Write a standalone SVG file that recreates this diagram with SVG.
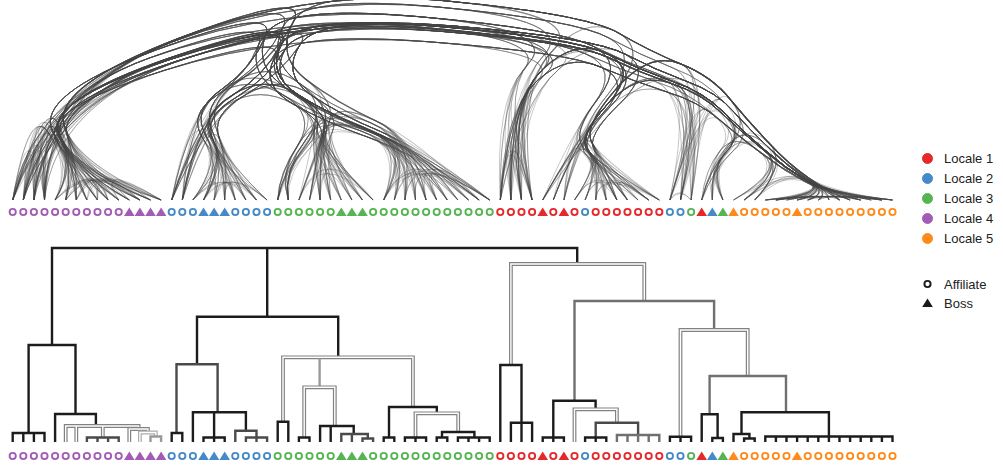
<svg xmlns="http://www.w3.org/2000/svg" width="1003" height="466" viewBox="0 0 1003 466">
<style>
.k{fill:none;stroke:#1c1c1c;stroke-width:2.4}
.d{fill:none;stroke:#4a4a4a;stroke-width:2.4}
.g{fill:none;stroke:#707070;stroke-width:2.4}
.l{fill:none;stroke:#9a9a9a;stroke-width:2.4}
.wo{fill:none;stroke:#828282;stroke-width:3.8}
.wl{fill:none;stroke:#ababab;stroke-width:3.8}
.wi{fill:none;stroke:#fff;stroke-width:1.4}
.c1{stroke:#e6282b;fill:#e6282b}
.c2{stroke:#4689c8;fill:#4689c8}
.c3{stroke:#56b452;fill:#56b452}
.c4{stroke:#a25cb6;fill:#a25cb6}
.c5{stroke:#ff8a1a;fill:#ff8a1a}
.ck{stroke:#1a1a1a;fill:#1a1a1a}
.t{font-family:"Liberation Sans",Arial,sans-serif;font-size:13px;fill:#222}
</style>
<defs>
<circle id="mc" r="3.1" fill="#fff" stroke-width="1.9"/>
<path id="mt" d="M0-4.6L5.3 4H-5.3Z" stroke="none"/>
</defs>
<g id="connectors" fill="none" stroke="#444" stroke-opacity="0.3" stroke-width="1">
<g id="edges-1">
<path d="M12.7 200Q45 90 44.5 200"/>
<path d="M23.3 200Q45 90 33.9 200"/>
<path d="M12.7 200Q45 90 60 128Q75 165 65.7 200"/>
<path d="M23.3 200Q45 90 60 128Q75 165 86.9 200"/>
<path d="M33.9 200Q45 90 60 128Q75 165 108.1 200"/>
<path d="M44.5 200Q45 90 60 128Q75 165 139.9 200"/>
<path d="M12.7 200Q45 90 60 128Q75 165 161.1 200"/>
<path d="M33.9 200Q45 90 60 128Q75 165 55.1 200"/>
<path d="M12.7 200Q45 90 172 42Q299 -6 283 27Q267 60 234 83Q200 105 171.7 200"/>
<path d="M33.9 200Q45 90 172 42Q299 -6 283 27Q267 60 234 83Q200 105 182.3 200"/>
<path d="M23.3 200Q45 90 172 42Q299 -6 283 27Q267 60 234 83Q200 105 213 133Q225 160 203.5 200"/>
<path d="M44.5 200Q45 90 172 42Q299 -6 283 27Q267 60 234 83Q200 105 213 133Q225 160 245.9 200"/>
<path d="M33.9 200Q45 90 172 42Q299 -6 283 27Q267 60 299 83Q330 105 307 138Q283 170 277.7 200"/>
<path d="M12.7 200Q45 90 172 42Q299 -6 283 27Q267 60 299 83Q330 105 325 123Q320 140 320.1 200"/>
<path d="M44.5 200Q45 90 172 42Q299 -6 283 27Q267 60 299 83Q330 105 325 123Q320 140 362.5 200"/>
<path d="M12.7 200Q45 90 172 42Q299 -6 438 7Q577 20 544 55Q510 90 510.9 200"/>
<path d="M44.5 200Q45 90 172 42Q299 -6 438 7Q577 20 544 55Q510 90 500.3 200"/>
<path d="M23.3 200Q45 90 172 42Q299 -6 438 7Q577 20 609 38Q640 55 609 93Q578 130 553.3 200"/>
<path d="M33.9 200Q45 90 172 42Q299 -6 438 7Q577 20 609 38Q640 55 609 93Q578 130 589 145Q600 160 606.3 200"/>
<path d="M12.7 200Q45 90 172 42Q299 -6 438 7Q577 20 609 38Q640 55 609 93Q578 130 589 145Q600 160 648.7 200"/>
<path d="M44.5 200Q45 90 172 42Q299 -6 438 7Q577 20 609 38Q640 55 673 68Q705 80 680.5 200"/>
<path d="M192.9 200Q225 160 213 133Q200 105 234 83Q267 60 299 83Q330 105 371 123Q412 140 404.9 200"/>
<path d="M235.3 200Q225 160 213 133Q200 105 234 83Q267 60 299 83Q330 105 371 123Q412 140 468.5 200"/>
<path d="M267.1 200Q225 160 213 133Q200 105 234 83Q267 60 299 83Q330 105 371 123Q412 140 489.7 200"/>
<path d="M214.1 200Q225 160 213 133Q200 105 234 83Q267 60 299 83Q330 105 371 123Q412 140 383.7 200"/>
<path d="M277.7 200Q283 170 307 138Q330 105 325 123Q320 140 341.3 200"/>
<path d="M288.3 200Q283 170 307 138Q330 105 325 123Q320 140 320.1 200"/>
<path d="M277.7 200Q283 170 307 138Q330 105 371 123Q412 140 415.5 200"/>
<path d="M288.3 200Q283 170 307 138Q330 105 371 123Q412 140 457.9 200"/>
<path d="M298.9 200Q320 140 325 123Q330 105 371 123Q412 140 394.3 200"/>
<path d="M330.7 200Q320 140 325 123Q330 105 371 123Q412 140 436.7 200"/>
<path d="M267.1 200Q225 160 213 133Q200 105 234 83Q267 60 283 27Q299 -6 438 7Q577 20 609 38Q640 55 673 68Q705 80 725 103Q745 125 766 145Q786 165 808 179Q830 192 797.1 200"/>
<path d="M214.1 200Q225 160 213 133Q200 105 234 83Q267 60 283 27Q299 -6 438 7Q577 20 609 38Q640 55 673 68Q705 80 725 103Q745 125 766 145Q786 165 808 179Q830 192 881.9 200"/>
<path d="M288.3 200Q283 170 307 138Q330 105 299 83Q267 60 283 27Q299 -6 438 7Q577 20 544 55Q510 90 532.1 200"/>
<path d="M277.7 200Q283 170 307 138Q330 105 299 83Q267 60 283 27Q299 -6 438 7Q577 20 609 38Q640 55 673 68Q705 80 691.1 200"/>
<path d="M288.3 200Q283 170 307 138Q330 105 299 83Q267 60 283 27Q299 -6 438 7Q577 20 609 38Q640 55 673 68Q705 80 725 103Q745 125 766 145Q786 165 808 179Q830 192 828.9 200"/>
<path d="M320.1 200Q320 140 325 123Q330 105 299 83Q267 60 283 27Q299 -6 438 7Q577 20 544 55Q510 90 521.5 200"/>
<path d="M341.3 200Q320 140 325 123Q330 105 299 83Q267 60 283 27Q299 -6 438 7Q577 20 609 38Q640 55 609 93Q578 130 563.9 200"/>
<path d="M563.9 200Q578 130 589 145Q600 160 659.3 200"/>
<path d="M574.5 200Q600 160 616.9 200"/>
<path d="M606.3 200Q600 160 648.7 200"/>
<path d="M585.1 200Q600 160 638.1 200"/>
<path d="M669.9 200Q705 80 725 103Q745 125 728 145Q710 165 701.7 200"/>
<path d="M680.5 200Q705 80 725 103Q745 125 766 145Q786 165 808 179Q830 192 797.1 200"/>
<path d="M691.1 200Q705 80 725 103Q745 125 766 145Q786 165 808 179Q830 192 860.7 200"/>
<path d="M712.3 200Q710 165 728 145Q745 125 766 145Q786 165 744.1 200"/>
<path d="M701.7 200Q710 165 728 145Q745 125 766 145Q786 165 808 179Q830 192 828.9 200"/>
<path d="M722.9 200Q710 165 728 145Q745 125 766 145Q786 165 808 179Q830 192 871.3 200"/>
</g>
<g id="edges-2" transform="matrix(1 0 -0.1 0.9 20 20)">
<path d="M23.3 200Q45 90 172 42Q299 -6 283 27Q267 60 299 83Q330 105 371 123Q412 140 415.5 200"/>
<path d="M33.9 200Q45 90 172 42Q299 -6 283 27Q267 60 299 83Q330 105 371 123Q412 140 479.1 200"/>
<path d="M76.3 200Q75 165 60 128Q45 90 172 42Q299 -6 283 27Q267 60 234 83Q200 105 171.7 200"/>
<path d="M65.7 200Q75 165 60 128Q45 90 172 42Q299 -6 283 27Q267 60 234 83Q200 105 213 133Q225 160 214.1 200"/>
<path d="M108.1 200Q75 165 60 128Q45 90 172 42Q299 -6 283 27Q267 60 234 83Q200 105 213 133Q225 160 267.1 200"/>
<path d="M139.9 200Q75 165 60 128Q45 90 172 42Q299 -6 283 27Q267 60 234 83Q200 105 213 133Q225 160 224.7 200"/>
<path d="M23.3 200Q45 90 172 42Q299 -6 438 7Q577 20 609 38Q640 55 673 68Q705 80 725 103Q745 125 728 145Q710 165 712.3 200"/>
<path d="M33.9 200Q45 90 172 42Q299 -6 438 7Q577 20 609 38Q640 55 673 68Q705 80 725 103Q745 125 766 145Q786 165 744.1 200"/>
<path d="M12.7 200Q45 90 172 42Q299 -6 438 7Q577 20 609 38Q640 55 673 68Q705 80 725 103Q745 125 766 145Q786 165 808 179Q830 192 807.7 200"/>
<path d="M44.5 200Q45 90 172 42Q299 -6 438 7Q577 20 609 38Q640 55 673 68Q705 80 725 103Q745 125 766 145Q786 165 808 179Q830 192 860.7 200"/>
<path d="M23.3 200Q45 90 172 42Q299 -6 438 7Q577 20 609 38Q640 55 673 68Q705 80 725 103Q745 125 766 145Q786 165 808 179Q830 192 892.5 200"/>
<path d="M65.7 200Q75 165 60 128Q45 90 172 42Q299 -6 438 7Q577 20 544 55Q510 90 521.5 200"/>
<path d="M171.7 200Q200 105 213 133Q225 160 224.7 200"/>
<path d="M182.3 200Q200 105 213 133Q225 160 256.5 200"/>
<path d="M192.9 200Q225 160 245.9 200"/>
<path d="M203.5 200Q225 160 267.1 200"/>
<path d="M214.1 200Q225 160 235.3 200"/>
<path d="M171.7 200Q200 105 234 83Q267 60 299 83Q330 105 307 138Q283 170 288.3 200"/>
<path d="M182.3 200Q200 105 234 83Q267 60 299 83Q330 105 325 123Q320 140 330.7 200"/>
<path d="M171.7 200Q200 105 234 83Q267 60 299 83Q330 105 371 123Q412 140 436.7 200"/>
<path d="M203.5 200Q225 160 213 133Q200 105 234 83Q267 60 299 83Q330 105 307 138Q283 170 277.7 200"/>
<path d="M224.7 200Q225 160 213 133Q200 105 234 83Q267 60 299 83Q330 105 325 123Q320 140 309.5 200"/>
<path d="M245.9 200Q225 160 213 133Q200 105 234 83Q267 60 299 83Q330 105 325 123Q320 140 362.5 200"/>
<path d="M468.5 200Q412 140 371 123Q330 105 299 83Q267 60 283 27Q299 -6 438 7Q577 20 609 38Q640 55 609 93Q578 130 589 145Q600 160 648.7 200"/>
<path d="M489.7 200Q412 140 371 123Q330 105 299 83Q267 60 283 27Q299 -6 438 7Q577 20 609 38Q640 55 673 68Q705 80 669.9 200"/>
<path d="M447.3 200Q412 140 371 123Q330 105 299 83Q267 60 283 27Q299 -6 438 7Q577 20 609 38Q640 55 673 68Q705 80 725 103Q745 125 728 145Q710 165 701.7 200"/>
<path d="M404.9 200Q412 140 371 123Q330 105 299 83Q267 60 283 27Q299 -6 438 7Q577 20 609 38Q640 55 673 68Q705 80 725 103Q745 125 766 145Q786 165 754.7 200"/>
<path d="M383.7 200Q412 140 371 123Q330 105 299 83Q267 60 283 27Q299 -6 438 7Q577 20 609 38Q640 55 673 68Q705 80 725 103Q745 125 766 145Q786 165 808 179Q830 192 786.5 200"/>
<path d="M457.9 200Q412 140 371 123Q330 105 299 83Q267 60 283 27Q299 -6 438 7Q577 20 609 38Q640 55 673 68Q705 80 725 103Q745 125 766 145Q786 165 808 179Q830 192 818.3 200"/>
<path d="M426.1 200Q412 140 371 123Q330 105 299 83Q267 60 283 27Q299 -6 438 7Q577 20 609 38Q640 55 673 68Q705 80 725 103Q745 125 766 145Q786 165 808 179Q830 192 860.7 200"/>
<path d="M489.7 200Q412 140 371 123Q330 105 299 83Q267 60 283 27Q299 -6 438 7Q577 20 609 38Q640 55 673 68Q705 80 725 103Q745 125 766 145Q786 165 808 179Q830 192 871.3 200"/>
<path d="M23.3 200Q45 90 44.5 200"/>
<path d="M33.9 200Q45 90 60 128Q75 165 76.3 200"/>
<path d="M44.5 200Q45 90 60 128Q75 165 150.5 200"/>
<path d="M55.1 200Q95 155 108.1 200"/>
<path d="M76.3 200Q95 155 97.5 200"/>
<path d="M44.5 200Q45 90 172 42Q299 -6 438 7Q577 20 609 38Q640 55 609 93Q578 130 589 145Q600 160 627.5 200"/>
<path d="M23.3 200Q45 90 172 42Q299 -6 438 7Q577 20 609 38Q640 55 673 68Q705 80 725 103Q745 125 766 145Q786 165 808 179Q830 192 828.9 200"/>
<path d="M76.3 200Q75 165 60 128Q45 90 172 42Q299 -6 438 7Q577 20 609 38Q640 55 609 93Q578 130 542.7 200"/>
<path d="M118.7 200Q75 165 60 128Q45 90 172 42Q299 -6 438 7Q577 20 609 38Q640 55 673 68Q705 80 680.5 200"/>
<path d="M150.5 200Q75 165 60 128Q45 90 172 42Q299 -6 438 7Q577 20 609 38Q640 55 673 68Q705 80 725 103Q745 125 766 145Q786 165 808 179Q830 192 881.9 200"/>
<path d="M182.3 200Q200 105 234 83Q267 60 283 27Q299 -6 438 7Q577 20 609 38Q640 55 609 93Q578 130 589 145Q600 160 659.3 200"/>
<path d="M245.9 200Q225 160 213 133Q200 105 234 83Q267 60 283 27Q299 -6 438 7Q577 20 609 38Q640 55 609 93Q578 130 589 145Q600 160 574.5 200"/>
<path d="M256.5 200Q225 160 213 133Q200 105 234 83Q267 60 283 27Q299 -6 438 7Q577 20 609 38Q640 55 673 68Q705 80 725 103Q745 125 766 145Q786 165 744.1 200"/>
<path d="M309.5 200Q320 140 325 123Q330 105 299 83Q267 60 283 27Q299 -6 438 7Q577 20 544 55Q510 90 510.9 200"/>
<path d="M330.7 200Q320 140 325 123Q330 105 299 83Q267 60 283 27Q299 -6 438 7Q577 20 609 38Q640 55 673 68Q705 80 725 103Q745 125 728 145Q710 165 701.7 200"/>
<path d="M457.9 200Q412 140 371 123Q330 105 299 83Q267 60 283 27Q299 -6 438 7Q577 20 609 38Q640 55 609 93Q578 130 589 145Q600 160 616.9 200"/>
<path d="M447.3 200Q412 140 371 123Q330 105 299 83Q267 60 283 27Q299 -6 438 7Q577 20 609 38Q640 55 673 68Q705 80 725 103Q745 125 766 145Q786 165 808 179Q830 192 892.5 200"/>
<path d="M500.3 200Q510 90 521.5 200"/>
<path d="M500.3 200Q510 90 544 55Q577 20 609 38Q640 55 609 93Q578 130 589 145Q600 160 616.9 200"/>
<path d="M500.3 200Q510 90 544 55Q577 20 609 38Q640 55 673 68Q705 80 725 103Q745 125 766 145Q786 165 808 179Q830 192 775.9 200"/>
<path d="M542.7 200Q578 130 609 93Q640 55 673 68Q705 80 725 103Q745 125 766 145Q786 165 808 179Q830 192 797.1 200"/>
<path d="M648.7 200Q600 160 589 145Q578 130 609 93Q640 55 673 68Q705 80 725 103Q745 125 766 145Q786 165 808 179Q830 192 871.3 200"/>
<path d="M627.5 200Q600 160 648.7 200"/>
<path d="M701.7 200Q710 165 728 145Q745 125 766 145Q786 165 808 179Q830 192 807.7 200"/>
<path d="M775.9 200Q830 192 860.7 200"/>
</g>
<g id="edges-3" transform="matrix(1 0 0.1 0.95 -20 10)">
<path d="M44.5 200Q45 90 60 128Q75 165 97.5 200"/>
<path d="M23.3 200Q45 90 60 128Q75 165 118.7 200"/>
<path d="M65.7 200Q95 155 108.1 200"/>
<path d="M86.9 200Q95 155 150.5 200"/>
<path d="M55.1 200Q95 155 129.3 200"/>
<path d="M97.5 200Q95 155 161.1 200"/>
<path d="M76.3 200Q95 155 139.9 200"/>
<path d="M55.1 200Q75 165 60 128Q45 90 172 42Q299 -6 438 7Q577 20 609 38Q640 55 609 93Q578 130 589 145Q600 160 595.7 200"/>
<path d="M129.3 200Q75 165 60 128Q45 90 172 42Q299 -6 438 7Q577 20 609 38Q640 55 609 93Q578 130 589 145Q600 160 627.5 200"/>
<path d="M150.5 200Q75 165 60 128Q45 90 172 42Q299 -6 438 7Q577 20 609 38Q640 55 609 93Q578 130 589 145Q600 160 659.3 200"/>
<path d="M108.1 200Q75 165 60 128Q45 90 172 42Q299 -6 438 7Q577 20 544 55Q510 90 532.1 200"/>
<path d="M86.9 200Q75 165 60 128Q45 90 172 42Q299 -6 438 7Q577 20 609 38Q640 55 609 93Q578 130 563.9 200"/>
<path d="M76.3 200Q75 165 60 128Q45 90 172 42Q299 -6 438 7Q577 20 609 38Q640 55 673 68Q705 80 669.9 200"/>
<path d="M182.3 200Q200 105 234 83Q267 60 283 27Q299 -6 438 7Q577 20 544 55Q510 90 510.9 200"/>
<path d="M171.7 200Q200 105 234 83Q267 60 283 27Q299 -6 438 7Q577 20 609 38Q640 55 609 93Q578 130 589 145Q600 160 616.9 200"/>
<path d="M182.3 200Q200 105 234 83Q267 60 283 27Q299 -6 438 7Q577 20 609 38Q640 55 673 68Q705 80 725 103Q745 125 766 145Q786 165 808 179Q830 192 850.1 200"/>
<path d="M224.7 200Q225 160 213 133Q200 105 234 83Q267 60 283 27Q299 -6 438 7Q577 20 544 55Q510 90 500.3 200"/>
<path d="M203.5 200Q225 160 213 133Q200 105 234 83Q267 60 283 27Q299 -6 438 7Q577 20 609 38Q640 55 609 93Q578 130 542.7 200"/>
<path d="M256.5 200Q225 160 213 133Q200 105 234 83Q267 60 283 27Q299 -6 438 7Q577 20 609 38Q640 55 609 93Q578 130 589 145Q600 160 638.1 200"/>
<path d="M235.3 200Q225 160 213 133Q200 105 234 83Q267 60 283 27Q299 -6 438 7Q577 20 609 38Q640 55 673 68Q705 80 725 103Q745 125 728 145Q710 165 722.9 200"/>
<path d="M733.5 200Q786 165 808 179Q830 192 786.5 200"/>
<path d="M754.7 200Q786 165 808 179Q830 192 850.1 200"/>
<path d="M765.3 200Q830 192 818.3 200"/>
<path d="M775.9 200Q830 192 892.5 200"/>
<path d="M797.1 200Q830 192 860.7 200"/>
<path d="M807.7 200Q830 192 881.9 200"/>
<path d="M765.3 200Q830 192 839.5 200"/>
<path d="M786.5 200Q830 192 828.9 200"/>
<path d="M669.9 200Q680 185 691.1 200"/>
<path d="M23.3 200Q45 90 172 42Q299 -6 283 27Q267 60 234 83Q200 105 213 133Q225 160 192.9 200"/>
<path d="M44.5 200Q45 90 172 42Q299 -6 283 27Q267 60 234 83Q200 105 182.3 200"/>
<path d="M12.7 200Q45 90 172 42Q299 -6 283 27Q267 60 299 83Q330 105 371 123Q412 140 383.7 200"/>
<path d="M23.3 200Q45 90 172 42Q299 -6 283 27Q267 60 299 83Q330 105 325 123Q320 140 330.7 200"/>
<path d="M86.9 200Q75 165 60 128Q45 90 172 42Q299 -6 283 27Q267 60 234 83Q200 105 213 133Q225 160 203.5 200"/>
<path d="M76.3 200Q75 165 60 128Q45 90 172 42Q299 -6 283 27Q267 60 299 83Q330 105 307 138Q283 170 277.7 200"/>
<path d="M139.9 200Q75 165 60 128Q45 90 172 42Q299 -6 283 27Q267 60 299 83Q330 105 325 123Q320 140 320.1 200"/>
<path d="M97.5 200Q75 165 60 128Q45 90 172 42Q299 -6 283 27Q267 60 299 83Q330 105 371 123Q412 140 468.5 200"/>
<path d="M129.3 200Q75 165 60 128Q45 90 172 42Q299 -6 283 27Q267 60 299 83Q330 105 325 123Q320 140 373.1 200"/>
<path d="M192.9 200Q225 160 214.1 200"/>
<path d="M171.7 200Q200 105 213 133Q225 160 203.5 200"/>
<path d="M171.7 200Q200 105 234 83Q267 60 299 83Q330 105 325 123Q320 140 362.5 200"/>
<path d="M192.9 200Q225 160 213 133Q200 105 234 83Q267 60 299 83Q330 105 325 123Q320 140 320.1 200"/>
<path d="M235.3 200Q225 160 213 133Q200 105 234 83Q267 60 299 83Q330 105 371 123Q412 140 394.3 200"/>
<path d="M288.3 200Q283 170 307 138Q330 105 325 123Q320 140 373.1 200"/>
<path d="M341.3 200Q320 140 325 123Q330 105 371 123Q412 140 426.1 200"/>
<path d="M373.1 200Q320 140 325 123Q330 105 371 123Q412 140 404.9 200"/>
<path d="M383.7 200Q412 140 489.7 200"/>
<path d="M171.7 200Q200 105 234 83Q267 60 283 27Q299 -6 438 7Q577 20 609 38Q640 55 673 68Q705 80 725 103Q745 125 766 145Q786 165 808 179Q830 192 775.9 200"/>
<path d="M192.9 200Q225 160 213 133Q200 105 234 83Q267 60 283 27Q299 -6 438 7Q577 20 609 38Q640 55 673 68Q705 80 680.5 200"/>
<path d="M277.7 200Q283 170 307 138Q330 105 299 83Q267 60 283 27Q299 -6 438 7Q577 20 544 55Q510 90 500.3 200"/>
<path d="M351.9 200Q320 140 325 123Q330 105 299 83Q267 60 283 27Q299 -6 438 7Q577 20 609 38Q640 55 609 93Q578 130 589 145Q600 160 627.5 200"/>
<path d="M383.7 200Q412 140 371 123Q330 105 299 83Q267 60 283 27Q299 -6 438 7Q577 20 544 55Q510 90 532.1 200"/>
<path d="M479.1 200Q412 140 371 123Q330 105 299 83Q267 60 283 27Q299 -6 438 7Q577 20 609 38Q640 55 673 68Q705 80 680.5 200"/>
</g>
<g id="edges-4" transform="matrix(1 0 0.05 0.82 -10 36)">
<path d="M97.5 200Q75 165 60 128Q45 90 172 42Q299 -6 283 27Q267 60 299 83Q330 105 307 138Q283 170 288.3 200"/>
<path d="M118.7 200Q75 165 60 128Q45 90 172 42Q299 -6 283 27Q267 60 299 83Q330 105 325 123Q320 140 309.5 200"/>
<path d="M150.5 200Q75 165 60 128Q45 90 172 42Q299 -6 283 27Q267 60 299 83Q330 105 325 123Q320 140 341.3 200"/>
<path d="M55.1 200Q75 165 60 128Q45 90 172 42Q299 -6 283 27Q267 60 299 83Q330 105 371 123Q412 140 394.3 200"/>
<path d="M129.3 200Q75 165 60 128Q45 90 172 42Q299 -6 283 27Q267 60 299 83Q330 105 371 123Q412 140 447.3 200"/>
<path d="M161.1 200Q75 165 60 128Q45 90 172 42Q299 -6 283 27Q267 60 299 83Q330 105 371 123Q412 140 489.7 200"/>
<path d="M86.9 200Q75 165 60 128Q45 90 172 42Q299 -6 283 27Q267 60 299 83Q330 105 371 123Q412 140 426.1 200"/>
<path d="M362.5 200Q320 140 325 123Q330 105 299 83Q267 60 283 27Q299 -6 438 7Q577 20 609 38Q640 55 609 93Q578 130 589 145Q600 160 585.1 200"/>
<path d="M309.5 200Q320 140 325 123Q330 105 299 83Q267 60 283 27Q299 -6 438 7Q577 20 609 38Q640 55 673 68Q705 80 725 103Q745 125 766 145Q786 165 733.5 200"/>
<path d="M330.7 200Q320 140 325 123Q330 105 299 83Q267 60 283 27Q299 -6 438 7Q577 20 609 38Q640 55 673 68Q705 80 725 103Q745 125 766 145Q786 165 808 179Q830 192 765.3 200"/>
<path d="M373.1 200Q320 140 325 123Q330 105 299 83Q267 60 283 27Q299 -6 438 7Q577 20 609 38Q640 55 673 68Q705 80 725 103Q745 125 766 145Q786 165 808 179Q830 192 892.5 200"/>
<path d="M394.3 200Q412 140 371 123Q330 105 299 83Q267 60 283 27Q299 -6 438 7Q577 20 544 55Q510 90 510.9 200"/>
<path d="M479.1 200Q412 140 371 123Q330 105 299 83Q267 60 283 27Q299 -6 438 7Q577 20 544 55Q510 90 500.3 200"/>
<path d="M436.7 200Q412 140 371 123Q330 105 299 83Q267 60 283 27Q299 -6 438 7Q577 20 609 38Q640 55 609 93Q578 130 553.3 200"/>
<path d="M415.5 200Q412 140 371 123Q330 105 299 83Q267 60 283 27Q299 -6 438 7Q577 20 609 38Q640 55 609 93Q578 130 589 145Q600 160 595.7 200"/>
<path d="M500.3 200Q510 90 532.1 200"/>
<path d="M510.9 200Q510 90 521.5 200"/>
<path d="M500.3 200Q510 90 544 55Q577 20 609 38Q640 55 609 93Q578 130 553.3 200"/>
<path d="M521.5 200Q510 90 544 55Q577 20 609 38Q640 55 609 93Q578 130 589 145Q600 160 606.3 200"/>
<path d="M532.1 200Q510 90 544 55Q577 20 609 38Q640 55 609 93Q578 130 589 145Q600 160 648.7 200"/>
<path d="M510.9 200Q510 90 544 55Q577 20 609 38Q640 55 673 68Q705 80 680.5 200"/>
<path d="M500.3 200Q510 90 544 55Q577 20 609 38Q640 55 673 68Q705 80 725 103Q745 125 728 145Q710 165 712.3 200"/>
<path d="M521.5 200Q510 90 544 55Q577 20 609 38Q640 55 673 68Q705 80 725 103Q745 125 766 145Q786 165 744.1 200"/>
<path d="M510.9 200Q510 90 544 55Q577 20 609 38Q640 55 673 68Q705 80 725 103Q745 125 766 145Q786 165 808 179Q830 192 807.7 200"/>
<path d="M532.1 200Q510 90 544 55Q577 20 609 38Q640 55 673 68Q705 80 725 103Q745 125 766 145Q786 165 808 179Q830 192 881.9 200"/>
<path d="M12.7 200Q45 90 33.9 200"/>
<path d="M12.7 200Q45 90 60 128Q75 165 129.3 200"/>
<path d="M23.3 200Q45 90 60 128Q75 165 65.7 200"/>
<path d="M118.7 200Q95 155 161.1 200"/>
<path d="M65.7 200Q95 155 139.9 200"/>
<path d="M33.9 200Q45 90 172 42Q299 -6 438 7Q577 20 544 55Q510 90 521.5 200"/>
<path d="M12.7 200Q45 90 172 42Q299 -6 438 7Q577 20 609 38Q640 55 673 68Q705 80 691.1 200"/>
<path d="M44.5 200Q45 90 172 42Q299 -6 438 7Q577 20 609 38Q640 55 673 68Q705 80 725 103Q745 125 766 145Q786 165 733.5 200"/>
<path d="M97.5 200Q75 165 60 128Q45 90 172 42Q299 -6 438 7Q577 20 609 38Q640 55 609 93Q578 130 589 145Q600 160 616.9 200"/>
<path d="M86.9 200Q75 165 60 128Q45 90 172 42Q299 -6 438 7Q577 20 609 38Q640 55 673 68Q705 80 725 103Q745 125 728 145Q710 165 722.9 200"/>
<path d="M65.7 200Q75 165 60 128Q45 90 172 42Q299 -6 438 7Q577 20 609 38Q640 55 673 68Q705 80 725 103Q745 125 766 145Q786 165 808 179Q830 192 850.1 200"/>
<path d="M224.7 200Q225 160 256.5 200"/>
<path d="M182.3 200Q200 105 234 83Q267 60 299 83Q330 105 307 138Q283 170 288.3 200"/>
<path d="M182.3 200Q200 105 234 83Q267 60 299 83Q330 105 371 123Q412 140 479.1 200"/>
<path d="M256.5 200Q225 160 213 133Q200 105 234 83Q267 60 299 83Q330 105 371 123Q412 140 447.3 200"/>
<path d="M203.5 200Q225 160 213 133Q200 105 234 83Q267 60 299 83Q330 105 325 123Q320 140 298.9 200"/>
<path d="M277.7 200Q283 170 307 138Q330 105 371 123Q412 140 489.7 200"/>
<path d="M320.1 200Q320 140 325 123Q330 105 371 123Q412 140 468.5 200"/>
<path d="M415.5 200Q412 140 479.1 200"/>
<path d="M521.5 200Q510 90 544 55Q577 20 609 38Q640 55 609 93Q578 130 542.7 200"/>
<path d="M510.9 200Q510 90 544 55Q577 20 609 38Q640 55 673 68Q705 80 725 103Q745 125 728 145Q710 165 722.9 200"/>
<path d="M553.3 200Q578 130 609 93Q640 55 673 68Q705 80 680.5 200"/>
<path d="M606.3 200Q600 160 589 145Q578 130 609 93Q640 55 673 68Q705 80 725 103Q745 125 766 145Q786 165 744.1 200"/>
<path d="M595.7 200Q600 160 659.3 200"/>
<path d="M669.9 200Q705 80 725 103Q745 125 766 145Q786 165 808 179Q830 192 881.9 200"/>
<path d="M744.1 200Q786 165 808 179Q830 192 839.5 200"/>
<path d="M765.3 200Q830 192 881.9 200"/>
</g>
<g id="edges-5" transform="matrix(1 0 -0.06 1.03 12 -6)">
<path d="M76.3 200Q75 165 60 128Q45 90 172 42Q299 -6 438 7Q577 20 609 38Q640 55 673 68Q705 80 669.9 200"/>
<path d="M118.7 200Q75 165 60 128Q45 90 172 42Q299 -6 438 7Q577 20 609 38Q640 55 673 68Q705 80 725 103Q745 125 728 145Q710 165 701.7 200"/>
<path d="M97.5 200Q75 165 60 128Q45 90 172 42Q299 -6 438 7Q577 20 609 38Q640 55 673 68Q705 80 725 103Q745 125 766 145Q786 165 754.7 200"/>
<path d="M139.9 200Q75 165 60 128Q45 90 172 42Q299 -6 438 7Q577 20 609 38Q640 55 673 68Q705 80 725 103Q745 125 766 145Q786 165 808 179Q830 192 775.9 200"/>
<path d="M161.1 200Q75 165 60 128Q45 90 172 42Q299 -6 438 7Q577 20 609 38Q640 55 673 68Q705 80 725 103Q745 125 766 145Q786 165 808 179Q830 192 839.5 200"/>
<path d="M108.1 200Q75 165 60 128Q45 90 172 42Q299 -6 438 7Q577 20 609 38Q640 55 673 68Q705 80 725 103Q745 125 766 145Q786 165 808 179Q830 192 818.3 200"/>
<path d="M362.5 200Q320 140 325 123Q330 105 371 123Q412 140 479.1 200"/>
<path d="M309.5 200Q320 140 325 123Q330 105 371 123Q412 140 426.1 200"/>
<path d="M351.9 200Q320 140 325 123Q330 105 371 123Q412 140 383.7 200"/>
<path d="M298.9 200Q320 140 373.1 200"/>
<path d="M320.1 200Q320 140 351.9 200"/>
<path d="M383.7 200Q412 140 447.3 200"/>
<path d="M404.9 200Q412 140 489.7 200"/>
<path d="M426.1 200Q412 140 468.5 200"/>
<path d="M394.3 200Q412 140 457.9 200"/>
<path d="M436.7 200Q412 140 479.1 200"/>
<path d="M542.7 200Q578 130 609 93Q640 55 673 68Q705 80 669.9 200"/>
<path d="M563.9 200Q578 130 609 93Q640 55 673 68Q705 80 725 103Q745 125 766 145Q786 165 808 179Q830 192 839.5 200"/>
<path d="M585.1 200Q600 160 589 145Q578 130 609 93Q640 55 673 68Q705 80 691.1 200"/>
<path d="M616.9 200Q600 160 589 145Q578 130 609 93Q640 55 673 68Q705 80 725 103Q745 125 728 145Q710 165 722.9 200"/>
<path d="M638.1 200Q600 160 589 145Q578 130 609 93Q640 55 673 68Q705 80 725 103Q745 125 766 145Q786 165 754.7 200"/>
<path d="M595.7 200Q600 160 589 145Q578 130 609 93Q640 55 673 68Q705 80 725 103Q745 125 766 145Q786 165 808 179Q830 192 775.9 200"/>
<path d="M659.3 200Q600 160 589 145Q578 130 609 93Q640 55 673 68Q705 80 725 103Q745 125 766 145Q786 165 808 179Q830 192 850.1 200"/>
<path d="M627.5 200Q600 160 589 145Q578 130 609 93Q640 55 673 68Q705 80 725 103Q745 125 766 145Q786 165 808 179Q830 192 892.5 200"/>
<path d="M542.7 200Q578 130 589 145Q600 160 595.7 200"/>
<path d="M553.3 200Q578 130 589 145Q600 160 627.5 200"/>
<path d="M12.7 200Q45 90 172 42Q299 -6 283 27Q267 60 234 83Q200 105 213 133Q225 160 235.3 200"/>
<path d="M33.9 200Q45 90 172 42Q299 -6 283 27Q267 60 299 83Q330 105 325 123Q320 140 298.9 200"/>
<path d="M44.5 200Q45 90 172 42Q299 -6 283 27Q267 60 299 83Q330 105 371 123Q412 140 436.7 200"/>
<path d="M55.1 200Q75 165 60 128Q45 90 172 42Q299 -6 283 27Q267 60 234 83Q200 105 213 133Q225 160 256.5 200"/>
<path d="M118.7 200Q75 165 60 128Q45 90 172 42Q299 -6 283 27Q267 60 234 83Q200 105 182.3 200"/>
<path d="M108.1 200Q75 165 60 128Q45 90 172 42Q299 -6 283 27Q267 60 299 83Q330 105 325 123Q320 140 351.9 200"/>
<path d="M65.7 200Q75 165 60 128Q45 90 172 42Q299 -6 283 27Q267 60 299 83Q330 105 371 123Q412 140 404.9 200"/>
<path d="M150.5 200Q75 165 60 128Q45 90 172 42Q299 -6 283 27Q267 60 234 83Q200 105 213 133Q225 160 245.9 200"/>
<path d="M161.1 200Q75 165 60 128Q45 90 172 42Q299 -6 283 27Q267 60 299 83Q330 105 371 123Q412 140 415.5 200"/>
<path d="M23.3 200Q45 90 172 42Q299 -6 438 7Q577 20 609 38Q640 55 609 93Q578 130 589 145Q600 160 574.5 200"/>
<path d="M33.9 200Q45 90 172 42Q299 -6 438 7Q577 20 609 38Q640 55 673 68Q705 80 725 103Q745 125 766 145Q786 165 808 179Q830 192 765.3 200"/>
<path d="M55.1 200Q75 165 60 128Q45 90 172 42Q299 -6 438 7Q577 20 544 55Q510 90 510.9 200"/>
<path d="M139.9 200Q75 165 60 128Q45 90 172 42Q299 -6 438 7Q577 20 609 38Q640 55 609 93Q578 130 589 145Q600 160 585.1 200"/>
<path d="M129.3 200Q75 165 60 128Q45 90 172 42Q299 -6 438 7Q577 20 609 38Q640 55 673 68Q705 80 725 103Q745 125 766 145Q786 165 808 179Q830 192 797.1 200"/>
<path d="M171.7 200Q200 105 234 83Q267 60 283 27Q299 -6 438 7Q577 20 544 55Q510 90 532.1 200"/>
<path d="M203.5 200Q225 160 213 133Q200 105 234 83Q267 60 283 27Q299 -6 438 7Q577 20 544 55Q510 90 521.5 200"/>
<path d="M224.7 200Q225 160 213 133Q200 105 234 83Q267 60 283 27Q299 -6 438 7Q577 20 609 38Q640 55 673 68Q705 80 725 103Q745 125 766 145Q786 165 808 179Q830 192 839.5 200"/>
<path d="M288.3 200Q283 170 307 138Q330 105 299 83Q267 60 283 27Q299 -6 438 7Q577 20 609 38Q640 55 609 93Q578 130 589 145Q600 160 606.3 200"/>
<path d="M298.9 200Q320 140 325 123Q330 105 299 83Q267 60 283 27Q299 -6 438 7Q577 20 609 38Q640 55 673 68Q705 80 725 103Q745 125 766 145Q786 165 808 179Q830 192 807.7 200"/>
<path d="M426.1 200Q412 140 371 123Q330 105 299 83Q267 60 283 27Q299 -6 438 7Q577 20 609 38Q640 55 609 93Q578 130 563.9 200"/>
<path d="M404.9 200Q412 140 371 123Q330 105 299 83Q267 60 283 27Q299 -6 438 7Q577 20 609 38Q640 55 673 68Q705 80 725 103Q745 125 766 145Q786 165 808 179Q830 192 839.5 200"/>
<path d="M510.9 200Q510 90 532.1 200"/>
<path d="M532.1 200Q510 90 544 55Q577 20 609 38Q640 55 673 68Q705 80 691.1 200"/>
<path d="M521.5 200Q510 90 544 55Q577 20 609 38Q640 55 673 68Q705 80 725 103Q745 125 766 145Q786 165 808 179Q830 192 850.1 200"/>
<path d="M574.5 200Q600 160 589 145Q578 130 609 93Q640 55 673 68Q705 80 725 103Q745 125 728 145Q710 165 712.3 200"/>
<path d="M616.9 200Q600 160 589 145Q578 130 609 93Q640 55 673 68Q705 80 725 103Q745 125 766 145Q786 165 808 179Q830 192 818.3 200"/>
<path d="M680.5 200Q705 80 725 103Q745 125 766 145Q786 165 754.7 200"/>
<path d="M712.3 200Q710 165 728 145Q745 125 766 145Q786 165 808 179Q830 192 860.7 200"/>
<path d="M818.3 200Q830 192 892.5 200"/>
</g>
<use href="#edges-1" transform="matrix(1 0 0.14 0.9 -28 20)"/>
<use href="#edges-2" transform="matrix(1 0 0.12 1 -24 0)"/>
<use href="#edges-3" transform="matrix(1 0 -0.12 0.92 24 16)"/>
<use href="#edges-4" transform="matrix(1 0 -0.05 1.1 10 -20)"/>
<use href="#edges-5" transform="matrix(1 0 0.08 0.86 -16 28)"/>
</g>
<g id="dendrogram">
<path id="n-root" class="k" d="M52 345V248H577.2V264M267.2 248V316.7"/>
<path id="n-l1" class="k" d="M28.6 433V345H75.5V414"/>
<path id="n-l1a" class="k" d="M12.7 442V433H44.5V442M23.3 433V442M33.9 433V442"/>
<path id="n-l1b" class="k" d="M55.1 442V414H95.9V426"/>
<g id="n-l1b1"><path class="wo" d="M65.7 442V426H138.6V429M76.3 426V442M102.8 426V437.5"/><path class="wi" d="M65.7 442V426H138.6V429M76.3 426V442M102.8 426V437.5"/></g>
<path id="n-l1c" class="d" d="M86.9 442V437.5H118.7V442M97.5 437.5V442M108.1 437.5V442"/>
<g id="n-l1d"><path class="wo" d="M129.3 442V429H147.9V432.5"/><path class="wi" d="M129.3 442V429H147.9V432.5"/></g>
<g id="n-l1e"><path class="wl" d="M139.9 442V432.5H155.8V436.5"/><path class="wi" d="M139.9 442V432.5H155.8V436.5"/></g>
<path id="n-l1f" class="l" d="M150.5 442V436.5H161.1V442"/>
<path id="n-m" class="k" d="M197 364.3V316.7H338.2V357.3"/>
<path id="n-m1" class="d" d="M176.5 433V364.3H217.6V412.3"/>
<path id="n-m1a" class="k" d="M171.7 442V433H182.3V442"/>
<path id="n-m1b" class="k" d="M192.9 442V412.3H245.9V430.7M214.1 412.3V437.5"/>
<path id="n-m1c" class="k" d="M203.5 442V437.5H224.7V442M214.1 437.5V442"/>
<path id="n-m1d" class="d" d="M235.3 442V430.7H256.5V437.5"/>
<path id="n-m1e" class="d" d="M245.9 442V437.5H267.1V442M256.5 437.5V442"/>
<g id="n-m2"><path class="wo" d="M283 421.7V357.3H412.9V407"/><path class="wi" d="M283 421.7V357.3H412.9V407"/><path class="l" d="M319.6 358.5V387.3"/></g>
<path id="n-m2a" class="k" d="M277.7 442V421.7H288.3V442"/>
<g id="n-m2b"><path class="wo" d="M304.2 437.5V387.3H334.8V426"/><path class="wi" d="M304.2 437.5V387.3H334.8V426"/></g>
<path id="n-m2c" class="k" d="M298.9 442V437.5H309.5V442"/>
<path id="n-m2d" class="k" d="M320.1 442V426H353.7V434M330.7 426V442"/>
<path id="n-m2e" class="d" d="M341.3 442V434H367.8V438.5M351.9 434V442"/>
<path id="n-m2f" class="d" d="M362.5 442V438.5H373.1V442"/>
<path id="n-m3" class="k" d="M389 437.5V407H436.8V413.3"/>
<path id="n-m3a" class="k" d="M383.7 442V437.5H394.3V442"/>
<g id="n-m3b"><path class="wo" d="M415.5 437.5V413.3H458.2V432"/><path class="wi" d="M415.5 437.5V413.3H458.2V432"/></g>
<path id="n-m3c" class="k" d="M404.9 442V437.5H426.1V442M415.5 437.5V442"/>
<path id="n-m3d" class="k" d="M442 437.5V432H474.4V437.5"/>
<path id="n-m3e" class="k" d="M436.7 442V437.5H447.3V442"/>
<path id="n-m3f" class="k" d="M457.9 442V437.5H489.7V442M468.5 437.5V442M479.1 437.5V442"/>
<g id="n-r"><path class="wo" d="M510.9 365V264H644.3V301"/><path class="wi" d="M510.9 365V264H644.3V301"/></g>
<path id="n-r1" class="k" d="M500.3 442V365H521.5V422.7"/>
<path id="n-r1a" class="k" d="M510.9 442V422.7H532.1V442M521.5 422.7V442"/>
<path id="n-r2" class="g" d="M574.5 400.7V301H714.1V330"/>
<path id="n-r2a" class="k" d="M553.3 437.5V400.7H595.6V409.3"/>
<path id="n-r2b" class="k" d="M542.7 442V437.5H563.9V442M553.3 437.5V442"/>
<g id="n-r2c"><path class="wo" d="M574.5 442V409.3H616.9V422.7"/><path class="wi" d="M574.5 442V409.3H616.9V422.7"/></g>
<path id="n-r2d" class="d" d="M595.7 437.5V422.7H638.1V435"/>
<path id="n-r2e" class="k" d="M585.1 442V437.5H606.3V442M595.7 437.5V442"/>
<path id="n-r2f" class="g" d="M616.9 442V435H659.3V442M627.5 435V442M638.1 435V442M648.7 435V442"/>
<g id="n-r3"><path class="wo" d="M680.5 436.7V330H747.7V376"/><path class="wi" d="M680.5 436.7V330H747.7V376"/></g>
<path id="n-r3a" class="k" d="M669.9 442V436.7H691.1V442M680.5 436.7V442"/>
<path id="n-r3b" class="g" d="M709.6 414.3V376H786V412.3"/>
<path id="n-r3c" class="k" d="M701.7 442V414.3H717.6V438"/>
<path id="n-r3d" class="k" d="M712.3 442V438H722.9V442"/>
<path id="n-r3e" class="k" d="M741.5 434V412.3H828.9V436.5"/>
<path id="n-r3f" class="k" d="M733.5 442V434H749.4V438.5"/>
<path id="n-r3g" class="k" d="M744.1 442V438.5H754.7V442"/>
<path id="n-r3h" class="k" d="M765.3 442V436.5H892.5V442M775.9 436.5V442M786.5 436.5V442M797.1 436.5V442M807.7 436.5V442M818.3 436.5V442M828.9 436.5V442M839.5 436.5V442M850.1 436.5V442M860.7 436.5V442M871.3 436.5V442M881.9 436.5V442"/>
</g>
<g id="leaves-top">
<use href="#mc" x="12.7" y="212" class="c4"/><use href="#mc" x="23.3" y="212" class="c4"/><use href="#mc" x="33.9" y="212" class="c4"/><use href="#mc" x="44.5" y="212" class="c4"/><use href="#mc" x="55.1" y="212" class="c4"/><use href="#mc" x="65.7" y="212" class="c4"/><use href="#mc" x="76.3" y="212" class="c4"/><use href="#mc" x="86.9" y="212" class="c4"/><use href="#mc" x="97.5" y="212" class="c4"/><use href="#mc" x="108.1" y="212" class="c4"/><use href="#mc" x="118.7" y="212" class="c4"/>
<use href="#mt" x="129.3" y="212" class="c4"/><use href="#mt" x="139.9" y="212" class="c4"/><use href="#mt" x="150.5" y="212" class="c4"/><use href="#mt" x="161.1" y="212" class="c4"/>
<use href="#mc" x="171.7" y="212" class="c2"/><use href="#mc" x="182.3" y="212" class="c2"/><use href="#mc" x="192.9" y="212" class="c2"/>
<use href="#mt" x="203.5" y="212" class="c2"/><use href="#mt" x="214.1" y="212" class="c2"/><use href="#mt" x="224.7" y="212" class="c2"/>
<use href="#mc" x="235.3" y="212" class="c2"/><use href="#mc" x="245.9" y="212" class="c2"/><use href="#mc" x="256.5" y="212" class="c2"/><use href="#mc" x="267.1" y="212" class="c2"/>
<use href="#mc" x="277.7" y="212" class="c3"/><use href="#mc" x="288.3" y="212" class="c3"/><use href="#mc" x="298.9" y="212" class="c3"/><use href="#mc" x="309.5" y="212" class="c3"/><use href="#mc" x="320.1" y="212" class="c3"/><use href="#mc" x="330.7" y="212" class="c3"/>
<use href="#mt" x="341.3" y="212" class="c3"/><use href="#mt" x="351.9" y="212" class="c3"/><use href="#mt" x="362.5" y="212" class="c3"/>
<use href="#mc" x="373.1" y="212" class="c3"/><use href="#mc" x="383.7" y="212" class="c3"/><use href="#mc" x="394.3" y="212" class="c3"/><use href="#mc" x="404.9" y="212" class="c3"/><use href="#mc" x="415.5" y="212" class="c3"/><use href="#mc" x="426.1" y="212" class="c3"/><use href="#mc" x="436.7" y="212" class="c3"/><use href="#mc" x="447.3" y="212" class="c3"/><use href="#mc" x="457.9" y="212" class="c3"/><use href="#mc" x="468.5" y="212" class="c3"/><use href="#mc" x="479.1" y="212" class="c3"/><use href="#mc" x="489.7" y="212" class="c3"/>
<use href="#mc" x="500.3" y="212" class="c1"/><use href="#mc" x="510.9" y="212" class="c1"/><use href="#mc" x="521.5" y="212" class="c1"/><use href="#mc" x="532.1" y="212" class="c1"/>
<use href="#mt" x="542.7" y="212" class="c1"/><use href="#mc" x="553.3" y="212" class="c1"/><use href="#mt" x="563.9" y="212" class="c1"/><use href="#mc" x="574.5" y="212" class="c1"/>
<use href="#mc" x="585.1" y="212" class="c2"/>
<use href="#mc" x="595.7" y="212" class="c1"/><use href="#mc" x="606.3" y="212" class="c1"/><use href="#mc" x="616.9" y="212" class="c1"/><use href="#mc" x="627.5" y="212" class="c1"/><use href="#mc" x="638.1" y="212" class="c1"/><use href="#mc" x="648.7" y="212" class="c1"/><use href="#mc" x="659.3" y="212" class="c1"/>
<use href="#mc" x="669.9" y="212" class="c2"/><use href="#mc" x="680.5" y="212" class="c2"/><use href="#mc" x="691.1" y="212" class="c3"/>
<use href="#mt" x="701.7" y="212" class="c1"/><use href="#mt" x="712.3" y="212" class="c2"/><use href="#mt" x="722.9" y="212" class="c3"/><use href="#mt" x="733.5" y="212" class="c5"/>
<use href="#mc" x="744.1" y="212" class="c5"/><use href="#mc" x="754.7" y="212" class="c5"/><use href="#mc" x="765.3" y="212" class="c5"/><use href="#mc" x="775.9" y="212" class="c5"/><use href="#mc" x="786.5" y="212" class="c5"/>
<use href="#mt" x="797.1" y="212" class="c5"/>
<use href="#mc" x="807.7" y="212" class="c5"/><use href="#mc" x="818.3" y="212" class="c5"/><use href="#mc" x="828.9" y="212" class="c5"/><use href="#mc" x="839.5" y="212" class="c5"/><use href="#mc" x="850.1" y="212" class="c5"/><use href="#mc" x="860.7" y="212" class="c5"/><use href="#mc" x="871.3" y="212" class="c5"/><use href="#mc" x="881.9" y="212" class="c5"/><use href="#mc" x="892.5" y="212" class="c5"/>
</g>
<g id="leaves-bottom">
<use href="#mc" x="12.7" y="456" class="c4"/><use href="#mc" x="23.3" y="456" class="c4"/><use href="#mc" x="33.9" y="456" class="c4"/><use href="#mc" x="44.5" y="456" class="c4"/><use href="#mc" x="55.1" y="456" class="c4"/><use href="#mc" x="65.7" y="456" class="c4"/><use href="#mc" x="76.3" y="456" class="c4"/><use href="#mc" x="86.9" y="456" class="c4"/><use href="#mc" x="97.5" y="456" class="c4"/><use href="#mc" x="108.1" y="456" class="c4"/><use href="#mc" x="118.7" y="456" class="c4"/>
<use href="#mt" x="129.3" y="456" class="c4"/><use href="#mt" x="139.9" y="456" class="c4"/><use href="#mt" x="150.5" y="456" class="c4"/><use href="#mt" x="161.1" y="456" class="c4"/>
<use href="#mc" x="171.7" y="456" class="c2"/><use href="#mc" x="182.3" y="456" class="c2"/><use href="#mc" x="192.9" y="456" class="c2"/>
<use href="#mt" x="203.5" y="456" class="c2"/><use href="#mt" x="214.1" y="456" class="c2"/><use href="#mt" x="224.7" y="456" class="c2"/>
<use href="#mc" x="235.3" y="456" class="c2"/><use href="#mc" x="245.9" y="456" class="c2"/><use href="#mc" x="256.5" y="456" class="c2"/><use href="#mc" x="267.1" y="456" class="c2"/>
<use href="#mc" x="277.7" y="456" class="c3"/><use href="#mc" x="288.3" y="456" class="c3"/><use href="#mc" x="298.9" y="456" class="c3"/><use href="#mc" x="309.5" y="456" class="c3"/><use href="#mc" x="320.1" y="456" class="c3"/><use href="#mc" x="330.7" y="456" class="c3"/>
<use href="#mt" x="341.3" y="456" class="c3"/><use href="#mt" x="351.9" y="456" class="c3"/><use href="#mt" x="362.5" y="456" class="c3"/>
<use href="#mc" x="373.1" y="456" class="c3"/><use href="#mc" x="383.7" y="456" class="c3"/><use href="#mc" x="394.3" y="456" class="c3"/><use href="#mc" x="404.9" y="456" class="c3"/><use href="#mc" x="415.5" y="456" class="c3"/><use href="#mc" x="426.1" y="456" class="c3"/><use href="#mc" x="436.7" y="456" class="c3"/><use href="#mc" x="447.3" y="456" class="c3"/><use href="#mc" x="457.9" y="456" class="c3"/><use href="#mc" x="468.5" y="456" class="c3"/><use href="#mc" x="479.1" y="456" class="c3"/><use href="#mc" x="489.7" y="456" class="c3"/>
<use href="#mc" x="500.3" y="456" class="c1"/><use href="#mc" x="510.9" y="456" class="c1"/><use href="#mc" x="521.5" y="456" class="c1"/><use href="#mc" x="532.1" y="456" class="c1"/>
<use href="#mt" x="542.7" y="456" class="c1"/><use href="#mc" x="553.3" y="456" class="c1"/><use href="#mt" x="563.9" y="456" class="c1"/><use href="#mc" x="574.5" y="456" class="c1"/>
<use href="#mc" x="585.1" y="456" class="c2"/>
<use href="#mc" x="595.7" y="456" class="c1"/><use href="#mc" x="606.3" y="456" class="c1"/><use href="#mc" x="616.9" y="456" class="c1"/><use href="#mc" x="627.5" y="456" class="c1"/><use href="#mc" x="638.1" y="456" class="c1"/><use href="#mc" x="648.7" y="456" class="c1"/><use href="#mc" x="659.3" y="456" class="c1"/>
<use href="#mc" x="669.9" y="456" class="c2"/><use href="#mc" x="680.5" y="456" class="c2"/><use href="#mc" x="691.1" y="456" class="c3"/>
<use href="#mt" x="701.7" y="456" class="c1"/><use href="#mt" x="712.3" y="456" class="c2"/><use href="#mt" x="722.9" y="456" class="c3"/><use href="#mt" x="733.5" y="456" class="c5"/>
<use href="#mc" x="744.1" y="456" class="c5"/><use href="#mc" x="754.7" y="456" class="c5"/><use href="#mc" x="765.3" y="456" class="c5"/><use href="#mc" x="775.9" y="456" class="c5"/><use href="#mc" x="786.5" y="456" class="c5"/>
<use href="#mt" x="797.1" y="456" class="c5"/>
<use href="#mc" x="807.7" y="456" class="c5"/><use href="#mc" x="818.3" y="456" class="c5"/><use href="#mc" x="828.9" y="456" class="c5"/><use href="#mc" x="839.5" y="456" class="c5"/><use href="#mc" x="850.1" y="456" class="c5"/><use href="#mc" x="860.7" y="456" class="c5"/><use href="#mc" x="871.3" y="456" class="c5"/><use href="#mc" x="881.9" y="456" class="c5"/><use href="#mc" x="892.5" y="456" class="c5"/>
</g>
<g id="legend">
<circle cx="927.5" cy="158.5" r="5" class="c1"/><text class="t" x="944" y="163">Locale 1</text>
<circle cx="927.5" cy="178.5" r="5" class="c2"/><text class="t" x="944" y="183">Locale 2</text>
<circle cx="927.5" cy="198.5" r="5" class="c3"/><text class="t" x="944" y="203">Locale 3</text>
<circle cx="927.5" cy="218.5" r="5" class="c4"/><text class="t" x="944" y="223">Locale 4</text>
<circle cx="927.5" cy="238.5" r="5" class="c5"/><text class="t" x="944" y="243">Locale 5</text>
<use href="#mc" x="927.5" y="284" class="ck"/><text class="t" x="944" y="288.5">Affiliate</text>
<use href="#mt" x="927.5" y="303" class="ck"/><text class="t" x="944" y="307.5">Boss</text>
</g>
</svg>
